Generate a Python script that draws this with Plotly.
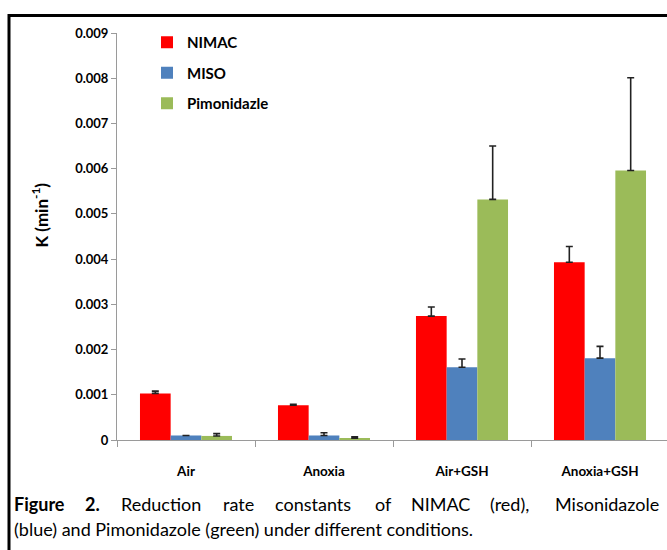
import plotly.graph_objects as go

categories = ["Air", "Anoxia", "Air+GSH", "Anoxia+GSH"]
nimac = [0.00103, 0.00077, 0.00274, 0.00393]
nimac_err = [0.00005, 0.00002, 0.00020, 0.00035]
miso = [0.00010, 0.00010, 0.00161, 0.00181]
miso_err = [0.0, 0.00006, 0.00018, 0.00026]
pimo = [0.00009, 0.00004, 0.00532, 0.00596]
pimo_err = [0.00005, 0.00003, 0.00118, 0.00205]
y_ticks = [0, 0.001, 0.002, 0.003, 0.004, 0.005, 0.006, 0.007, 0.008, 0.009]
y_tick_text = ["0", "0.001", "0.002", "0.003", "0.004", "0.005", "0.006", "0.007", "0.008", "0.009"]

W, H = 667, 550
L, T, B = 117, 33, 110
PW = W - L
PH = H - T - B

def px(x):
    return (x - L) / PW

def py(y):
    return (H - B - y) / PH

fig = go.Figure()
series = [("NIMAC", nimac, nimac_err, "#FF0000", "g1"),
          ("MISO", miso, miso_err, "#4F81BD", "g2"),
          ("Pimonidazle", pimo, pimo_err, "#9BBB59", "g3")]
for name, vals, errs, col, grp in series:
    fig.add_trace(go.Bar(
        x=categories, y=vals, name=name, legendgroup=grp,
        marker=dict(color=col, line=dict(width=0)),
        error_y=dict(type="data", array=errs, symmetric=False, arrayminus=[0]*len(errs),
                     color="#222222", thickness=1.6, width=3.5),
    ))

fig.update_layout(
    width=W, height=H,
    margin=dict(l=L, r=0, t=T, b=B, autoexpand=False),
    paper_bgcolor="white", plot_bgcolor="white",
    barmode="group", bargap=0.333, bargroupgap=0,
    font=dict(family="Lato", color="#000"),
    showlegend=True,
    legend=dict(x=px(147), y=py(26), xanchor="left", yanchor="top",
                font=dict(size=15, family="Lato", weight="bold"),
                tracegroupgap=8, bgcolor="rgba(0,0,0,0)",
                itemwidth=30),
    xaxis=dict(range=[-0.5, 3.5 - 2 / 138], showline=True, linecolor="#9A9A9A", linewidth=1,
               ticks="outside", tickson="boundaries", ticklen=6, tickcolor="#9A9A9A",
               tickfont=dict(size=13.5, family="Lato", weight="bold"),
               ticklabelstandoff=19, showgrid=False, zeroline=False),
    yaxis=dict(range=[0, 0.009], tickvals=y_ticks, ticktext=y_tick_text,
               showline=True, linecolor="#9A9A9A", linewidth=1,
               ticks="outside", ticklen=5, tickcolor="#9A9A9A",
               tickfont=dict(size=13, family="Lato", weight="bold"),
               showgrid=False, zeroline=False),
)

fig.add_annotation(x=px(26), y=py(215), xref="paper", yref="paper",
                   text="K (min<sup>-1</sup>)", textangle=-90, showarrow=False,
                   font=dict(size=17, family="Lato", weight="bold"))

# caption (justified first line)
cap_font = dict(size=18, family="Lato", color="#000")
line1 = [("<b>Figure</b>", 12), ("<b>2.</b>", 83), ("Reduction", 119), ("rate", 221),
         ("constants", 273), ("of", 373), ("NIMAC", 409), ("(red),", 488)]
for w, x in line1:
    fig.add_annotation(x=px(x), y=py(504), xref="paper", yref="paper", text=w,
                       xanchor="left", yanchor="middle", showarrow=False, font=cap_font)
fig.add_annotation(x=px(661), y=py(504), xref="paper", yref="paper", text="Misonidazole",
                   xanchor="right", yanchor="middle", showarrow=False, font=cap_font)
fig.add_annotation(x=px(12), y=py(529), xref="paper", yref="paper",
                   text="(blue) and Pimonidazole (green) under different conditions.",
                   xanchor="left", yanchor="middle", showarrow=False, font=cap_font)

# outer frame
fig.add_shape(type="rect", xref="paper", yref="paper",
              x0=px(9), y0=py(15.5), x1=px(700), y1=py(600),
              line=dict(color="black", width=3), fillcolor="rgba(0,0,0,0)", layer="above")

fig.write_html("out.html", config={"displayModeBar": False},
               post_script="document.body.style.margin='0';document.body.style.overflow='hidden';")
